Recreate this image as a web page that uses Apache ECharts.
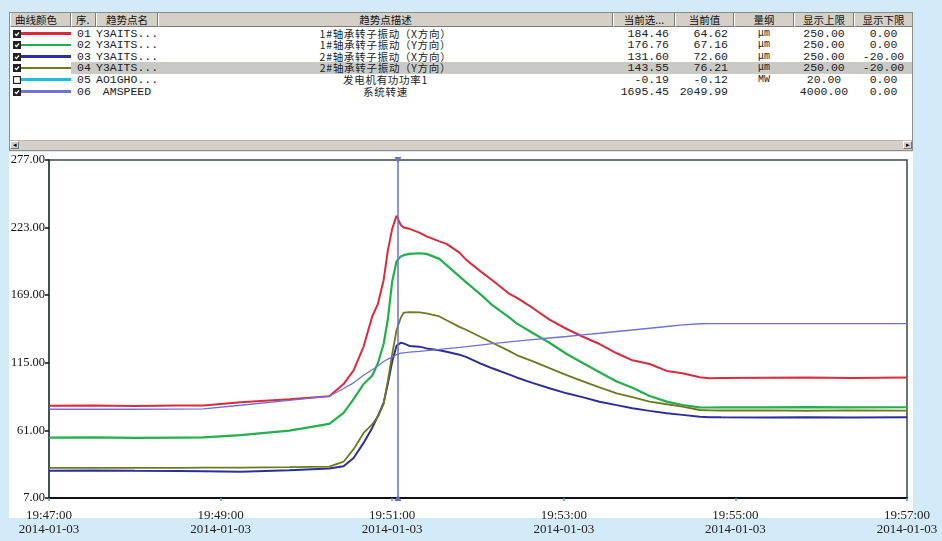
<!DOCTYPE html>
<html>
<head>
<meta charset="utf-8">
<script src="https://cdn.jsdelivr.net/npm/echarts@6/dist/echarts.min.js"></script>
<style>
  html, body { margin: 0; padding: 0; width: 942px; height: 541px; overflow: hidden; background: #d3eaf8; }
  #panel { position: absolute; left: 9px; top: 12px; width: 904px; height: 139px; background: #fff; border: 1px solid #8c8c8c; box-sizing: border-box; overflow: hidden; }
  #plotPanel { position: absolute; left: 9px; top: 152px; width: 904px; height: 366px; background: #fff; }
  #chart { position: absolute; left: 0; top: 0; width: 942px; height: 541px; }
  .cell { position: absolute; white-space: nowrap; box-sizing: border-box; color: #222; }
  .hd { background: #d4d0c8; border-left: 1px solid #fff; border-right: 1px solid #7a7a7a; border-bottom: 1px solid #7a7a7a;
        font: 10.5px "Noto Sans CJK SC"; line-height: 13px; height: 14px; top: 0; text-align: center; color: #111; overflow: hidden; }
  .cjk { font: 10.5px "Noto Sans CJK SC"; letter-spacing: 0.7px; }
  .num { font: 11.5px "Liberation Mono", "DejaVu Sans Mono", monospace; }
  .scroll { position: absolute; left: 0; bottom: 0; width: 902px; height: 9px; background: #d4d0c8; border-top: 1px solid #b8b8b8; }
  .btn { position: absolute; top: 0; width: 9px; height: 8px; background: #d4d0c8; border: 1px solid #fff; border-right-color: #777; border-bottom-color: #777; box-sizing: border-box; font: 7px sans-serif; line-height: 6px; text-align: center; color: #000; }
</style>
</head>
<body>
<div id="panel"></div>
<div id="plotPanel"></div>
<div id="chart"></div>
<script>
// ---- table (legend) data ----
const colEdges = [0, 61, 86, 148, 603, 665, 724, 784, 844, 903];
const headers = ['曲线颜色', '序.', '趋势点名', '趋势点描述', '当前选...', '当前值', '量纲', '显示上限', '显示下限'];
const rowIds = ['01', '02', '03', '04', '05', '06'];
const rowNames = ['Y3AITS...', 'Y3AITS...', 'Y3AITS...', 'Y3AITS...', 'AO1GHO...', 'AMSPEED'];
const rowDescs = ['1#轴承转子振动（X方向）', '1#轴承转子振动（Y方向）', '2#轴承转子振动（X方向）', '2#轴承转子振动（Y方向）', '发电机有功功率1', '系统转速'];
const selValues = ['184.46', '176.76', '131.60', '143.55', '-0.19', '1695.45'];
const curValues = ['64.62', '67.16', '72.60', '76.21', '-0.12', '2049.99'];
const units = ['μm', 'μm', 'μm', 'μm', 'MW', ''];
const upperLimits = ['250.00', '250.00', '250.00', '250.00', '20.00', '4000.00'];
const lowerLimits = ['0.00', '0.00', '-20.00', '-20.00', '0.00', '0.00'];
const lineColors = ['#dc2a3c', '#22b04a', '#2b2f9c', '#6f7a1e', '#1fc0d6', '#6d72d6'];
const checked = [true, true, true, true, false, true];
const selectedRow = 3;

// ---- trend data (19:47:00 - 19:57:00, 2014-01-03) ----
const day = '2014-01-03';
const startTime = '19:47:00';
const endTime = '19:57:00';
const times = ['19:47:00', '19:47:30', '19:48:00', '19:48:30', '19:48:48', '19:49:14', '19:49:48', '19:50:16',
  '19:50:26', '19:50:33', '19:50:40', '19:50:46', '19:50:50', '19:50:54', '19:50:57', '19:51:00',
  '19:51:03', '19:51:06', '19:51:08', '19:51:12', '19:51:19', '19:51:24', '19:51:33', '19:51:38',
  '19:51:47', '19:51:52', '19:52:03', '19:52:10', '19:52:22', '19:52:27', '19:52:38', '19:52:50',
  '19:53:02', '19:53:13', '19:53:25', '19:53:37', '19:53:48', '19:54:00', '19:54:12', '19:54:23',
  '19:54:35', '19:54:42', '19:54:50', '19:55:20', '19:55:50', '19:56:20', '19:57:00'];
const bearing1X = [80.7, 80.9, 80.5, 80.8, 80.8, 83.4, 85.8, 88.3,
  98, 109, 128, 152, 162, 181, 205, 222,
  232.5, 225, 223, 222, 219, 216, 212, 210,
  203, 197, 187, 181, 170, 167, 159, 149.5,
  142, 136, 130, 122.6, 117, 114, 108.5, 106.6,
  103.5, 102.6, 102.8, 103, 103.2, 102.9, 103.3];
const bearing1Y = [55.2, 55.4, 55.1, 55.3, 55.4, 57.3, 60.8, 66.2,
  75, 86, 98, 104.6, 114.6, 130, 150, 180,
  196, 200, 201, 202, 202.5, 202, 198, 193,
  184, 179, 168.5, 161, 151, 146.5, 139, 131,
  122, 115, 107.5, 100, 95, 88.5, 84, 81.3,
  79.4, 79.3, 79.5, 79.4, 79.6, 79.4, 79.5];
const bearing2X = [28.8, 28.9, 28.7, 28.6, 28.4, 28.0, 29.2, 30.5,
  32.3, 39, 51, 63, 72.5, 83, 98.6, 116,
  128.5, 131, 130.5, 128.5, 127.9, 126.5, 125, 123.8,
  121.5, 119.5, 113.8, 110.6, 105.6, 103.3, 99, 94.7,
  90.6, 87.6, 83.9, 81.2, 78.7, 76.6, 74.7, 73.4,
  71.9, 71.6, 71.5, 71.4, 71.6, 71.4, 71.6];
const bearing2Y = [31, 31, 31.1, 31, 31.2, 31.3, 31.6, 32,
  36, 46, 59, 65.8, 72, 82, 101, 122,
  141, 151, 155, 155.5, 155.3, 154.5, 152, 149,
  143.7, 141.2, 135, 131, 124.3, 121.2, 116.4, 110.7,
  105.1, 100.3, 95.3, 90.6, 87.6, 83.9, 81.9, 80,
  77.3, 77, 76.9, 77, 76.7, 77, 76.8];
const speed = [77.9, 77.9, 77.9, 78, 78.2, 81.1, 85, 88.3,
  94.5, 99, 105, 109.5, 112.5, 116, 118, 119.6,
  121.5, 122.7, 123, 123.5, 124.2, 124.8, 125.8, 126.4,
  127.4, 128, 129.4, 130.3, 131.7, 132.3, 133.5, 134.8,
  136, 137.3, 138.6, 140, 141.2, 142.6, 144, 145.3,
  146.2, 146.3, 146.3, 146.3, 146.3, 146.3, 146.3];
const cursorTime = '19:51:04';
const yTicks = [7, 61, 115, 169, 223, 277];

// ---- build the table ----
const panel = document.getElementById('panel');
function cell(cls, left, width, top, height, html, style) {
  const d = document.createElement('div');
  d.className = 'cell ' + cls;
  d.style.left = left + 'px';
  d.style.width = width + 'px';
  d.style.top = top + 'px';
  d.style.height = height + 'px';
  d.style.lineHeight = height + 'px';
  if (style) Object.assign(d.style, style);
  d.innerHTML = html;
  panel.appendChild(d);
  return d;
}
headers.forEach((h, c) => {
  const align = c < 2 ? { textAlign: 'left', paddingLeft: '4px' } : {};
  cell('hd', colEdges[c], colEdges[c + 1] - colEdges[c], 0, 14, h, align);
});
const rowH = 11.6, row0 = 14.5;
rowIds.forEach((id, r) => {
  const top = row0 + r * rowH;
  if (r === selectedRow) {
    cell('', colEdges[1], colEdges[9] - colEdges[1], top, rowH, '', { background: '#c9c9c6' });
  }
  const box = checked[r]
    ? '<svg width="8" height="8" style="position:absolute;left:3px;top:2px"><rect x="0.5" y="0.5" width="7" height="7" fill="#222" stroke="#222"/><polyline points="2,4 3.5,5.5 6,2.5" fill="none" stroke="#fff" stroke-width="1.2"/></svg>'
    : '<svg width="8" height="8" style="position:absolute;left:3px;top:2px"><rect x="0.5" y="0.5" width="7" height="7" fill="#fff" stroke="#222" stroke-width="1.3"/></svg>';
  cell('', 0, 61, top, rowH, box + '<div style="position:absolute;left:11px;right:0;top:4.5px;height:2.6px;background:' + lineColors[r] + '"></div>');
  cell('num', colEdges[1], colEdges[2] - colEdges[1], top, rowH, id, { paddingLeft: '6px' });
  cell('num', colEdges[2], colEdges[3] - colEdges[2], top, rowH, rowNames[r], { textAlign: 'center' });
  cell('cjk', colEdges[3], colEdges[4] - colEdges[3], top, rowH, rowDescs[r], { textAlign: 'center' });
  cell('num', colEdges[4], colEdges[5] - colEdges[4], top, rowH, selValues[r], { textAlign: 'right', paddingRight: '6px' });
  cell('num', colEdges[5], colEdges[6] - colEdges[5], top, rowH, curValues[r], { textAlign: 'right', paddingRight: '6px' });
  cell('num', colEdges[6], colEdges[7] - colEdges[6], top, rowH, units[r], { textAlign: 'center', fontSize: '10px' });
  cell('num', colEdges[7], colEdges[8] - colEdges[7], top, rowH, upperLimits[r], { textAlign: 'center' });
  cell('num', colEdges[8], colEdges[9] - colEdges[8], top, rowH, lowerLimits[r], { textAlign: 'center' });
});
const sb = document.createElement('div');
sb.className = 'scroll';
sb.innerHTML = '<div class="btn" style="left:0">&#9666;</div><div class="btn" style="right:0">&#9656;</div>';
panel.appendChild(sb);

// ---- chart ----
function toSec(t) {
  const p = t.split(':').map(Number);
  return p[0] * 3600 + p[1] * 60 + p[2];
}
const t0 = toSec(startTime);
const pad = n => String(n).padStart(2, '0');
function timeLabel(v) {
  const s = t0 + Math.round(v);
  return pad(Math.floor(s / 3600)) + ':' + pad(Math.floor(s / 60) % 60) + ':' + pad(s % 60) + '\n' + day;
}

const chart = echarts.init(document.getElementById('chart'), null, { renderer: 'canvas' });
const seriesDefs = [
  { name: '1#轴承转子振动（X方向）', values: bearing1X, color: lineColors[0], width: 2 },
  { name: '1#轴承转子振动（Y方向）', values: bearing1Y, color: lineColors[1], width: 2.2 },
  { name: '2#轴承转子振动（X方向）', values: bearing2X, color: lineColors[2], width: 2 },
  { name: '2#轴承转子振动（Y方向）', values: bearing2Y, color: lineColors[3], width: 1.8 },
  { name: '系统转速', values: speed, color: lineColors[5], width: 1.3 }
];
const series = seriesDefs.map(s => ({
  name: s.name,
  type: 'line',
  symbol: 'none',
  data: times.map((t, i) => [toSec(t) - t0, s.values[i]]),
  lineStyle: { color: s.color, width: s.width },
  itemStyle: { color: s.color },
  z: 3
}));
series[4].markLine = {
  silent: true,
  symbol: ['path://M0,0L10,0L5,8Z', 'path://M0,0L10,0L5,8Z'],
  symbolSize: [7, 6],
  label: { show: false },
  lineStyle: { color: '#6a70d0', width: 1.5, type: 'solid' },
  data: [{ xAxis: toSec(cursorTime) - t0 }]
};

chart.setOption({
  animation: false,
  backgroundColor: 'transparent',
  grid: {
    left: 49, right: 35, top: 160, bottom: 43,
    outerBoundsMode: 'none',
    show: true, borderColor: '#34494a', borderWidth: 1.5, backgroundColor: 'transparent'
  },
  xAxis: {
    type: 'value',
    min: 0,
    max: toSec(endTime) - t0,
    interval: 120,
    splitLine: { show: false },
    axisLine: { show: true, lineStyle: { color: '#111', width: 2 } },
    axisTick: { show: true, length: 3, lineStyle: { color: '#3c9ee0', width: 1.5 } },
    axisLabel: {
      margin: 11,
      color: '#222',
      fontFamily: 'Liberation Serif',
      fontSize: 13,
      lineHeight: 14,
      showMinLabel: true,
      showMaxLabel: true,
      formatter: timeLabel
    }
  },
  yAxis: {
    type: 'value',
    min: 7,
    max: 277,
    splitLine: { show: false },
    axisLine: { show: true, lineStyle: { color: '#34494a', width: 1.5 } },
    axisTick: { show: true, length: 4, customValues: yTicks, lineStyle: { color: '#111', width: 1.5 } },
    axisLabel: {
      customValues: yTicks,
      margin: 4,
      color: '#111',
      fontFamily: 'Liberation Serif',
      fontSize: 12.5,
      formatter: v => v.toFixed(2)
    }
  },
  series: series
});
</script>
</body>
</html>
